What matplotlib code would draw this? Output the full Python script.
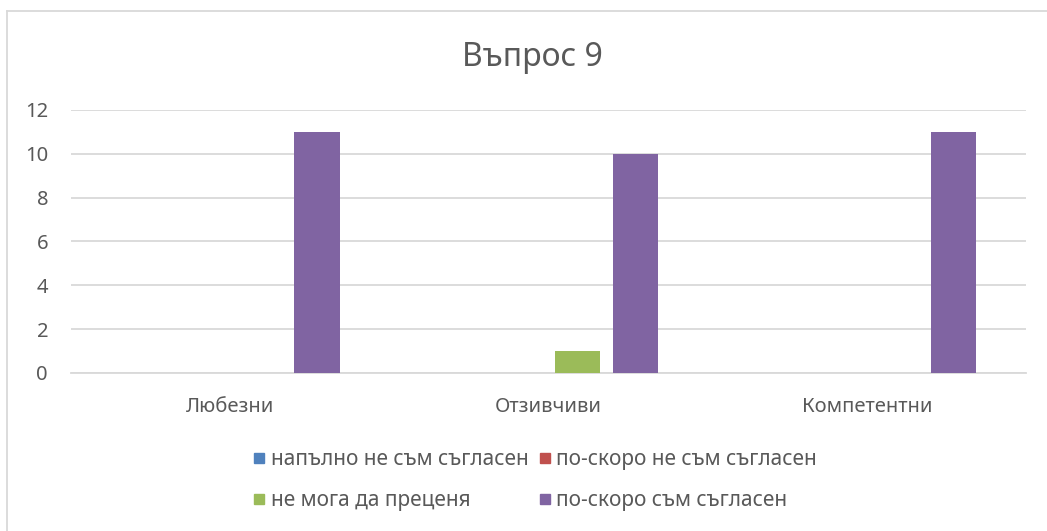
import matplotlib
matplotlib.use("Agg")
import matplotlib.pyplot as plt
from matplotlib.lines import Line2D
import numpy as np

plt.rcParams['font.family'] = ['Noto Sans', 'DejaVu Sans']

categories = ['Любезни', 'Отзивчиви', 'Компетентни']
series_names = ['напълно не съм съгласен', 'по-скоро не съм съгласен',
                'не мога да преценя', 'по-скоро съм съгласен']
series_values = [
    [0, 0, 0],
    [0, 0, 0],
    [0, 1, 0],
    [11, 10, 11],
]
series_colors = ['#4F81BD', '#C0504D', '#9BBB59', '#8064A2']
yticks = [0, 2, 4, 6, 8, 10, 12]

text_col = '#595959'
grid_col = '#D9D9D9'

W, H = 1047, 531
fig = plt.figure(figsize=(W / 100, H / 100), dpi=100)
ax = fig.add_axes([71 / W, (H - 373) / H, (1026 - 71) / W, (373 - 110) / H])

x = np.arange(len(categories))
slot = 0.182
bw = 0.143
n = len(series_names)
for i, (name, vals, col) in enumerate(zip(series_names, series_values, series_colors)):
    off = (i - (n - 1) / 2) * slot
    ax.bar(x + off, vals, width=bw, color=col, label=name, zorder=3)

ax.set_xlim(-0.5, len(categories) - 0.5)
ax.set_ylim(0, 12)
ax.set_yticks(yticks)
ax.set_xticks(x)
ax.set_xticklabels(categories)
ax.yaxis.grid(True, color=grid_col, linewidth=1.3, zorder=0)
for s in ['top', 'right', 'left']:
    ax.spines[s].set_visible(False)
ax.spines['bottom'].set_color(grid_col)
ax.spines['bottom'].set_linewidth(1.3)
ax.tick_params(axis='both', length=0, colors=text_col, labelsize=14.5)
ax.tick_params(axis='y', pad=16.5)
ax.tick_params(axis='x', pad=17)

fig.text(532 / W, 1 - 58 / H, 'Въпрос 9', ha='center', va='center',
         fontsize=23, color=text_col)

# legend filled row by row, like Excel
order = [0, 2, 1, 3]
handles = [Line2D([], [], marker='s', linestyle='none', markersize=7.5,
                  markerfacecolor=series_colors[k], markeredgecolor=series_colors[k])
           for k in order]
labels = [series_names[k] for k in order]
leg = fig.legend(handles, labels, ncol=2, loc='center',
                 bbox_to_anchor=(535 / W, 1 - 480 / H), frameon=False,
                 fontsize=15, handletextpad=0.25, columnspacing=0.5,
                 labelspacing=0.95, handlelength=0.6, borderpad=0)
for t in leg.get_texts():
    t.set_color(text_col)

# chart area border (left and top only visible)
fig.add_artist(Line2D([7 / W, 7 / W], [0, 1 - 11 / H], transform=fig.transFigure,
                      color=grid_col, linewidth=1.3))
fig.add_artist(Line2D([7 / W, 1], [1 - 11 / H, 1 - 11 / H], transform=fig.transFigure,
                      color=grid_col, linewidth=1.3))

fig.savefig('out.png', dpi=100)
